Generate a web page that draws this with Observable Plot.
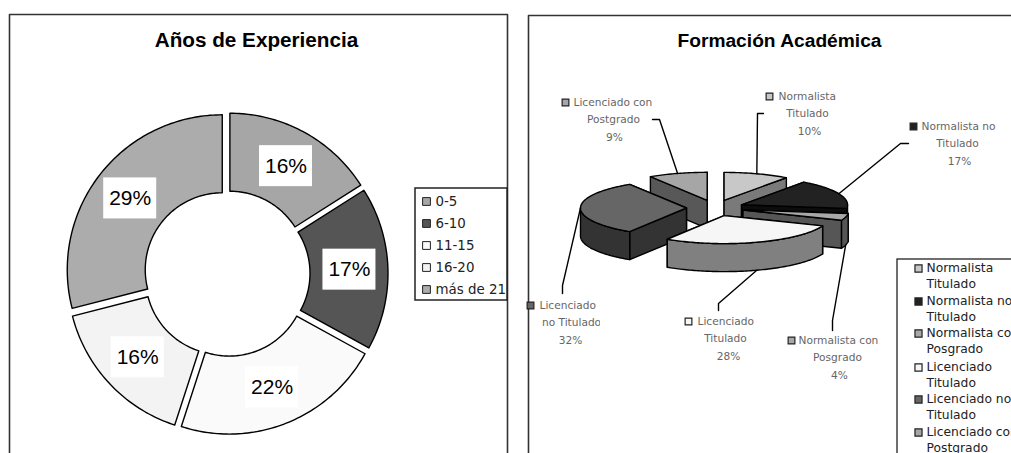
<!DOCTYPE html>
<html><head><meta charset="utf-8">
<style>html,body{margin:0;padding:0;background:#fff}svg{display:block}</style>
<script src="https://cdn.jsdelivr.net/npm/d3@7"></script>
<script src="https://cdn.jsdelivr.net/npm/@observablehq/plot@0.6"></script>
</head><body><div id="chart"></div>
<script>
// ---- data ----
const expTitle = "Años de Experiencia";
const expCategories = ["0-5", "6-10", "11-15", "16-20", "más de 21"];
const expValues = [16, 17, 22, 16, 29];
const expShades = ["#a6a6a6", "#555555", "#fafafa", "#f3f3f3", "#acacac"];

const formTitle = "Formación Académica";
const formCategories = ["Normalista Titulado", "Normalista no Titulado", "Normalista con Posgrado", "Licenciado Titulado", "Licenciado no Titulado", "Licenciado con Postgrado"];
const formValues = [10, 17, 4, 28, 32, 9];
const formTopShades = ["#c8c8c8", "#222222", "#a8a8a8", "#f6f6f6", "#666666", "#a6a6a6"];
const formSideShades = ["#7a7a7a", "#0c0c0c", "#565656", "#808080", "#333333", "#585858"];
const formLabelLines = [["Normalista", "Titulado"], ["Normalista no", "Titulado"], ["Normalista con", "Posgrado"], ["Licenciado", "Titulado"], ["Licenciado", "no Titulado"], ["Licenciado con", "Postgrado"]];
const formLegendLines = [["Normalista", "Titulado"], ["Normalista no", "Titulado"], ["Normalista con", "Posgrado"], ["Licenciado", "Titulado"], ["Licenciado no", "Titulado"], ["Licenciado con", "Postgrado"]];

// ---- layout ----
const W = 1011, H = 453;
const sans = "Liberation Sans, Arial, sans-serif";
const geneva = "DejaVu Sans, Verdana, sans-serif";
const TAU = Math.PI * 2;
const arcRange = (a0, a1, step = 0.02) => {
  const n = Math.max(1, Math.ceil((a1 - a0) / step));
  return d3.range(n + 1).map(i => a0 + (a1 - a0) * i / n);
};
const fractions = vs => {
  const total = d3.sum(vs); let acc = 0;
  return vs.map(v => { const a0 = acc / total * TAU; acc += v; const a1 = acc / total * TAU; return {a0, a1, mid: (a0 + a1) / 2}; });
};

// donut
const donut = {cx: 226.5, cy: 273, r0: 77, r1: 155, gap: 6, labelR: 122.5};
const donutAngles = fractions(expValues);
const donutPts = expCategories.flatMap((c, i) => {
  const {a0, a1, mid} = donutAngles[i];
  const ox = donut.cx + donut.gap * Math.sin(mid), oy = donut.cy - donut.gap * Math.cos(mid);
  const outer = arcRange(a0, a1).map(a => ({id: c, shade: c, x: ox + donut.r1 * Math.sin(a), y: oy - donut.r1 * Math.cos(a)}));
  const inner = arcRange(a0, a1).reverse().map(a => ({id: c, shade: c, x: ox + donut.r0 * Math.sin(a), y: oy - donut.r0 * Math.cos(a)}));
  return [...outer, ...inner, outer[0]];
});
const donutLabels = expCategories.map((c, i) => ({
  text: expValues[i] + "%",
  x: donut.cx + donut.labelR * Math.sin(donutAngles[i].mid),
  y: donut.cy - donut.labelR * Math.cos(donutAngles[i].mid)
}));
const expLegend = expCategories.map((c, i) => ({c, x: 426, tx: 435, y: 201 + i * 22}));

// exploded 3-D pie
const pie = {cx: 714.7, cy: 207.5, rx: 106, ry: 28, ex: 28.7, ey: 8, depth: 28};
const pieAngles = fractions(formValues);
const pieInfo = formCategories.map((c, i) => {
  const {a0, a1, mid} = pieAngles[i];
  return {c, i, a0, a1, mid, ax: pie.cx + pie.ex * Math.sin(mid), ay: pie.cy - pie.ey * Math.cos(mid)};
});
const rim = (s, a, dz = 0) => ({x: s.ax + pie.rx * Math.sin(a), y: s.ay - pie.ry * Math.cos(a) + dz});
const piePts = [];
let faceId = 0;
pieInfo.slice().sort((p, q) => p.ay - q.ay).forEach(s => {
  const side = s.c + " lado", top = s.c + " tapa";
  const apex = {x: s.ax, y: s.ay}, apexB = {x: s.ax, y: s.ay + pie.depth};
  const faces = [
    [apex, rim(s, s.a0), rim(s, s.a0, pie.depth), apexB],
    [apex, rim(s, s.a1), rim(s, s.a1, pie.depth), apexB]
  ];
  // only the part of the outer wall that faces the viewer
  const w0 = Math.max(s.a0, TAU / 4), w1 = Math.min(s.a1, 3 * TAU / 4);
  if (w1 > w0) faces.push([...arcRange(w0, w1).map(a => rim(s, a)), ...arcRange(w0, w1).reverse().map(a => rim(s, a, pie.depth))]);
  faces.sort((f, g) => d3.mean(f, d => d.y) - d3.mean(g, d => d.y));
  const push = (pts, shade) => { const id = "f" + faceId++; [...pts, pts[0]].forEach(p => piePts.push({id, shade, x: p.x, y: p.y})); };
  faces.forEach(f => push(f, side));
  push([apex, ...arcRange(s.a0, s.a1).map(a => rim(s, a))], top);
});

// callouts: label anchors are layout, the pie end of each leader comes from the slice angle
const calloutLayout = [
  {sw: [769, 96], t0: 778, t1: 807, t2: 809, leader: [[763, 113], [757, 113]]},
  {sw: [913, 126], t0: 921, t1: 957, t2: 959, leader: [[908, 143], [900, 143]]},
  {sw: [791, 340], t0: 798, t1: 837, t2: 839, leader: [[832, 330], [832, 320]]},
  {sw: [688, 321], t0: 697, t1: 725, t2: 728, leader: [[718, 310], [718, 303]]},
  {sw: [530, 305], t0: 539, t1: 571, t2: 570, leader: [[562, 293], [562, 285]]},
  {sw: [565, 102], t0: 573, t1: 613, t2: 614, leader: [[652, 119], [659, 119]]}
];
const lineStep = 17.5;
const leaders = pieInfo.flatMap((s, i) => {
  const front = Math.cos(s.mid) < -0.01;
  const end = rim(s, s.mid, front ? pie.depth : 0);
  return [...calloutLayout[i].leader.map(([x, y]) => ({id: i, x, y})), {id: i, x: end.x, y: end.y}];
});
const calloutSwatches = calloutLayout.map((l, i) => ({c: formCategories[i] + " tapa", x: l.sw[0], y: l.sw[1]}));
const calloutStart = calloutLayout.map((l, i) => ({text: formLabelLines[i][0], x: l.t0, y: l.sw[1]}));
const calloutMiddle = calloutLayout.flatMap((l, i) => [
  {text: formLabelLines[i][1], x: l.t1, y: l.sw[1] + lineStep},
  {text: formValues[i] + "%", x: l.t2, y: l.sw[1] + 2 * lineStep}
]);

// right legend
const legendYs = [268, 301, 333, 367, 399, 432];
const formLegendSw = formCategories.map((c, i) => ({c: c + " tapa", x: 918, y: legendYs[i]}));
const formLegendText = formLegendLines.flatMap((ls, i) => ls.map((t, j) => ({text: t, x: 926, y: legendYs[i] + j * 16})));

const colorDomain = [...expCategories, ...formCategories.map(c => c + " tapa"), ...formCategories.map(c => c + " lado")];
const colorRange = [...expShades, ...formTopShades, ...formSideShades];

const frame = (pts, o = {}) => Plot.line(pts, {x: d => d[0], y: d => d[1], stroke: "#333", strokeWidth: 1.6, ...o});

const chart = Plot.plot({
  width: W, height: H, margin: 0,
  style: {background: "#fff"},
  x: {domain: [0, W], range: [0, W], axis: null},
  y: {domain: [0, H], range: [0, H], axis: null},
  color: {type: "ordinal", domain: colorDomain, range: colorRange},
  marks: [
    // panel frames
    frame([[9, H], [9, 14], [507, 14], [507, H]]),
    frame([[528, H], [528, 15], [W, 15]]),
    // titles
    Plot.text([expTitle], {x: () => 256, y: () => 40, text: d => d, fontFamily: sans, fontWeight: "bold", fontSize: 20.7, fill: "#000"}),
    Plot.text([formTitle], {x: () => 779, y: () => 40.5, text: d => d, fontFamily: sans, fontWeight: "bold", fontSize: 19.2, fill: "#000"}),
    // donut
    Plot.line(donutPts, {x: "x", y: "y", z: "id", fill: "shade", stroke: "#000", strokeWidth: 1.4}),
    Plot.rect(donutLabels, {x1: d => d.x - 26.5, x2: d => d.x + 26.5, y1: d => d.y - 20.5, y2: d => d.y + 20.5, fill: "white"}),
    Plot.text(donutLabels, {x: "x", y: "y", text: "text", fontFamily: sans, fontSize: 21, fill: "#000"}),
    // donut legend
    Plot.rect([0], {x1: () => 415, x2: () => 507, y1: () => 188, y2: () => 300, fill: "white", stroke: "#222", strokeWidth: 1.5}),
    Plot.dot(expLegend, {x: "x", y: "y", symbol: "square", r: 4.4, fill: "c", stroke: "#222", strokeWidth: 1}),
    Plot.text(expLegend, {x: "tx", y: "y", text: "c", textAnchor: "start", fontFamily: geneva, fontSize: 13.4, fill: "#222"}),
    // 3-D pie
    Plot.line(piePts, {x: "x", y: "y", z: "id", fill: "shade", stroke: "#000", strokeWidth: 1.4}),
    Plot.line(leaders, {x: "x", y: "y", z: "id", stroke: "#000", strokeWidth: 1.4}),
    Plot.dot(calloutSwatches, {x: "x", y: "y", symbol: "square", r: 3.8, fill: "c", stroke: "#222", strokeWidth: 1.2}),
    Plot.text(calloutStart, {x: "x", y: "y", text: "text", textAnchor: "start", fontFamily: geneva, fontSize: 10.6, fill: "#666"}),
    Plot.text(calloutMiddle, {x: "x", y: "y", text: "text", textAnchor: "middle", fontFamily: geneva, fontSize: 10.6, fill: "#666"}),
    Plot.rect([0], {x1: () => 600, x2: () => 612, y1: () => 314, y2: () => 330, fill: "white"}),
    // pie legend
    Plot.rect([0], {x1: () => 897, x2: () => W + 5, y1: () => 259, y2: () => H + 5, fill: "white", stroke: "#222", strokeWidth: 1.3}),
    Plot.dot(formLegendSw, {x: "x", y: "y", symbol: "square", r: 4, fill: "c", stroke: "#222", strokeWidth: 1.2}),
    Plot.text(formLegendText, {x: "x", y: "y", text: "text", textAnchor: "start", fontFamily: geneva, fontSize: 12.3, fill: "#222"})
  ]
});
document.getElementById("chart").append(chart);
</script></body></html>
